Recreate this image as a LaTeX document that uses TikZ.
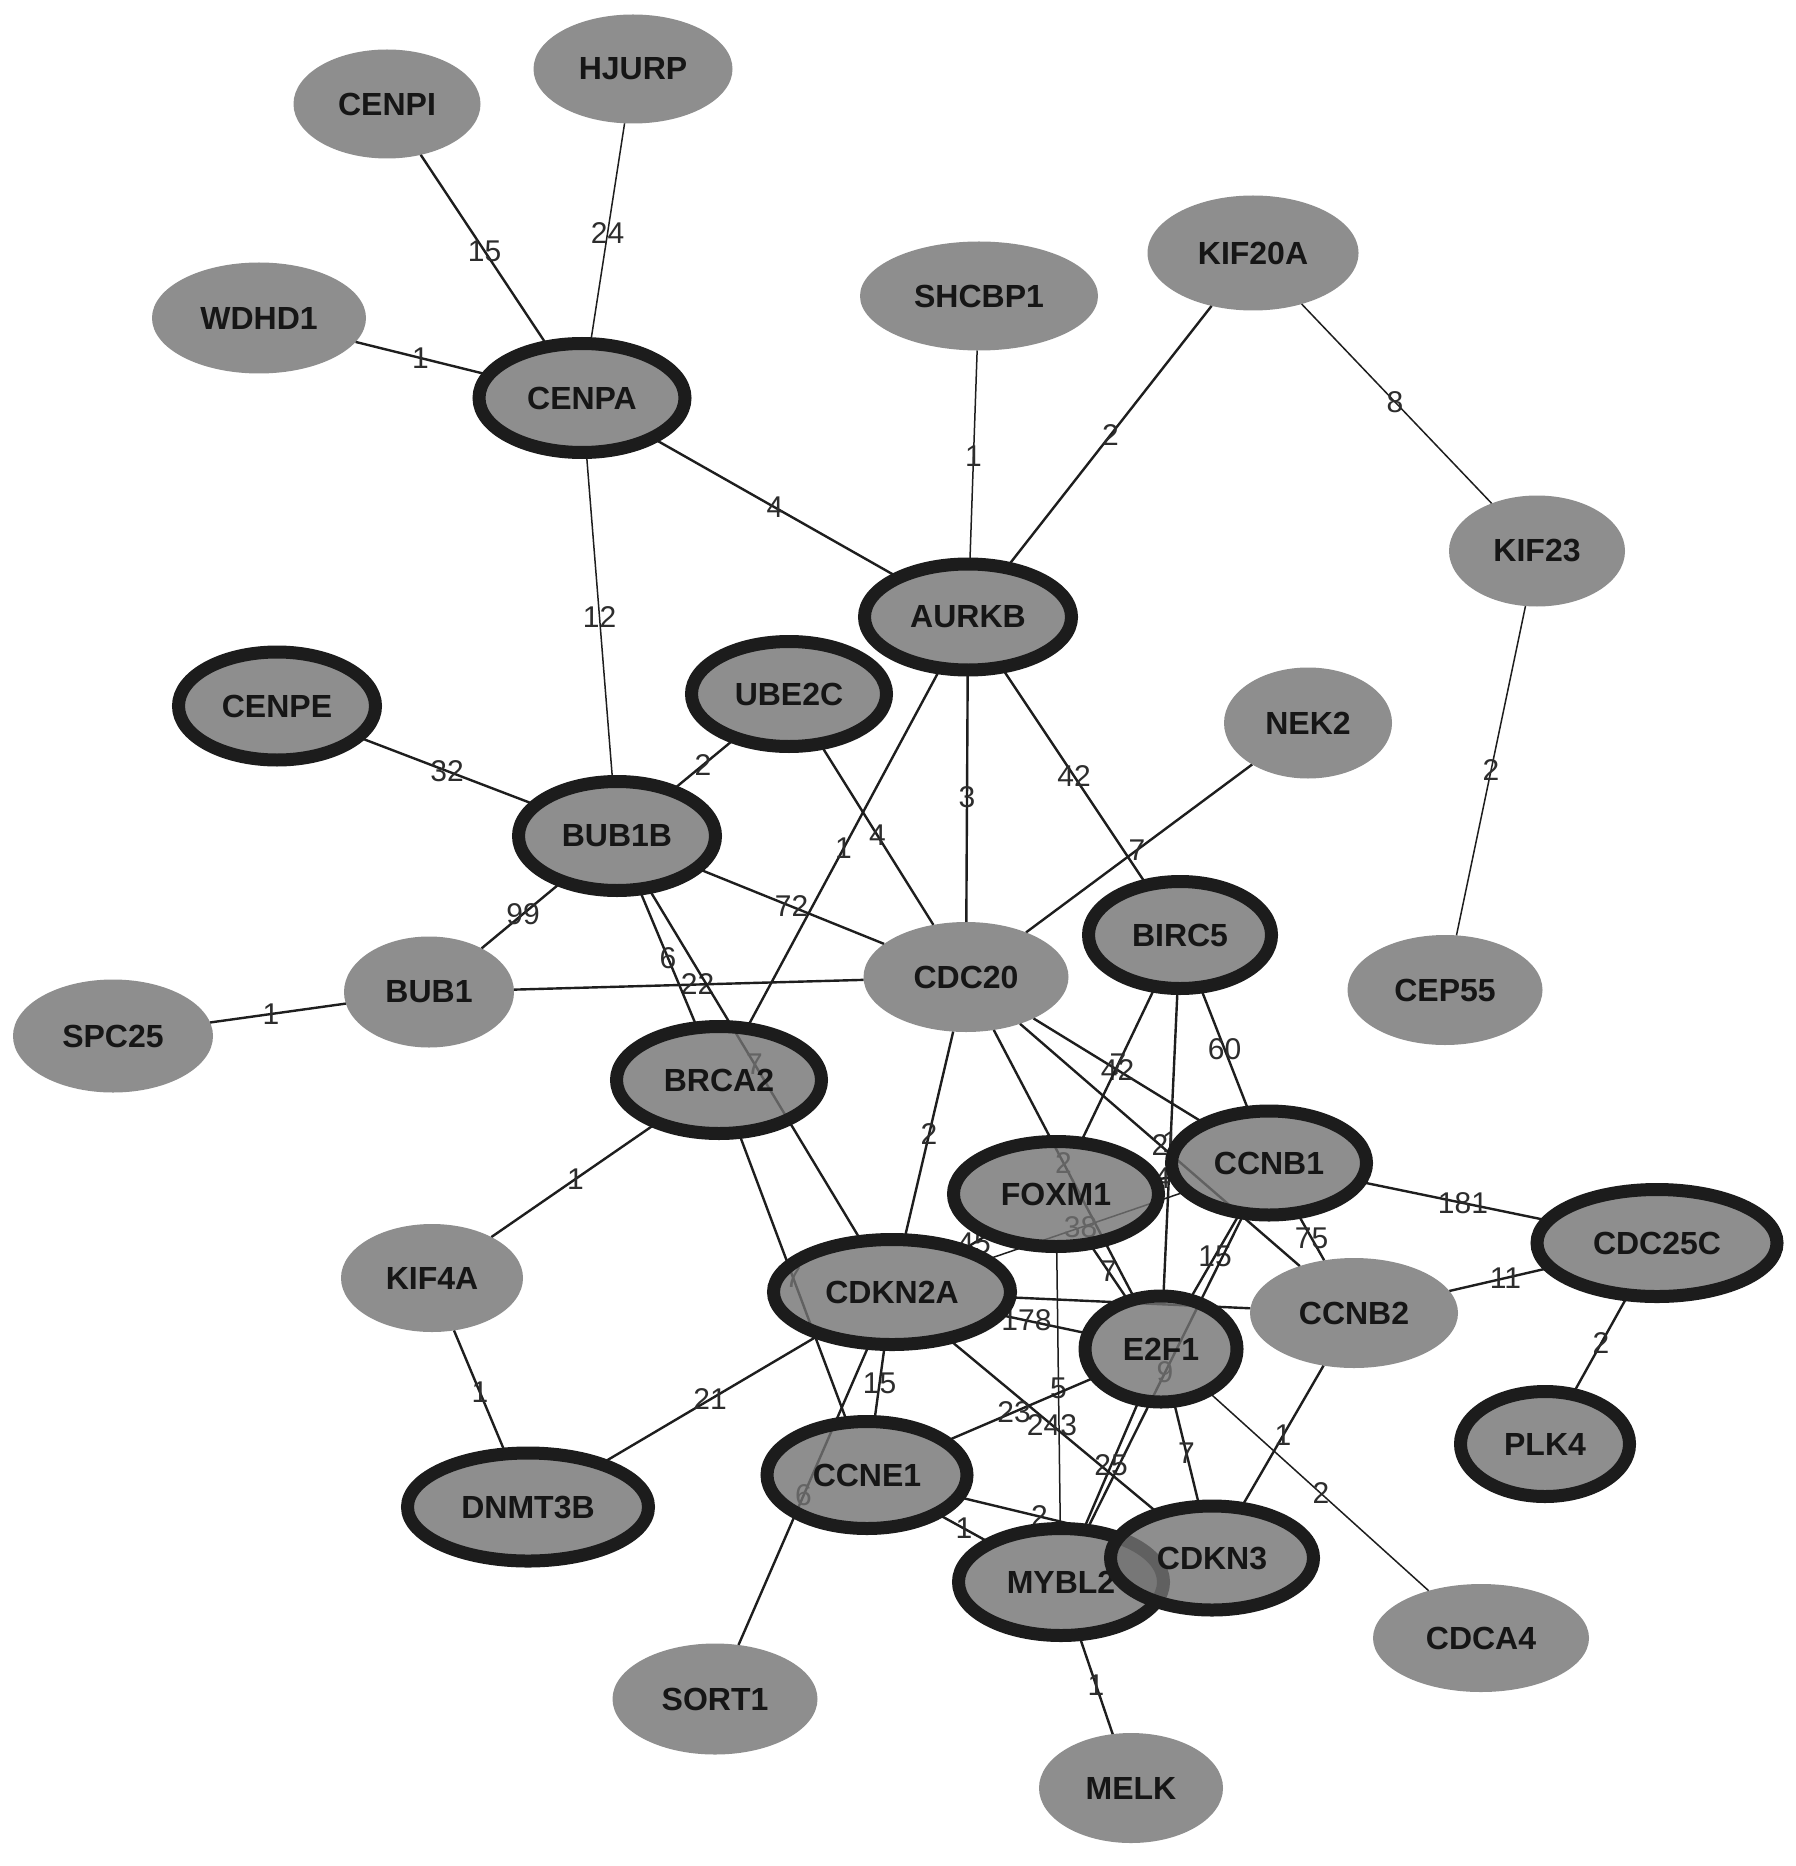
\documentclass[tikz,border=0pt]{standalone}
\usepackage{fontspec}
\newfontfamily\lsans{Liberation Sans}
\usetikzlibrary{shapes.geometric,backgrounds}
\definecolor{nodefill}{RGB}{114,114,114}
\definecolor{ringcol}{RGB}{28,28,28}
\definecolor{edgecol}{RGB}{30,30,30}
\definecolor{labcol}{RGB}{45,45,45}
\definecolor{txtcol}{RGB}{22,22,22}
\tikzset{
 gn/.style 2 args={ellipse, fill=nodefill, fill opacity=0.8, text opacity=1, draw opacity=1,
   minimum width=(#1)*0.5pt, minimum height=(#2)*0.5pt, inner sep=0pt, outer sep=0pt,
   text=txtcol, font=\lsans\bfseries\fontsize{16}{16}\selectfont},
 bn/.style 2 args={gn={#1-13}{#2-13}, draw=ringcol, line width=6.5pt},
 edge/.style={draw=edgecol, line width=1.2pt},
 thinedge/.style={line width=0.75pt},
 elab/.style={font=\lsans\fontsize{15}{15}\selectfont, text=labcol, inner sep=0pt},
}
\newcommand\gedge[4][]{\draw[edge,#1] (#2) -- (#3); \path (#2.center) -- node[elab]{#4} (#3.center);}
\begin{document}
\begin{tikzpicture}[x=0.5pt,y=-0.5pt]
\useasboundingbox (0,0) rectangle (1795,1866);
\begin{scope}[on background layer]
\fill[white] (0,0) rectangle (1795,1866);
\end{scope}
% nodes
\node[gn={187}{109}] (CENPI) at (387,104) {CENPI};
\node[gn={199}{109}] (HJURP) at (633,69) {HJURP};
\node[gn={214}{111}] (WDHD1) at (259,318) {WDHD1};
\node[bn={219}{122}] (CENPA) at (582,398) {CENPA};
\node[gn={238}{109}] (SHCBP1) at (979,296) {SHCBP1};
\node[gn={211}{115}] (KIF20A) at (1253,253) {KIF20A};
\node[gn={176}{111}] (KIF23) at (1537,551) {KIF23};
\node[bn={220}{119}] (AURKB) at (968,617) {AURKB};
\node[gn={168}{111}] (NEK2) at (1308,723) {NEK2};
\node[bn={210}{121}] (CENPE) at (277,706) {CENPE};
\node[bn={208}{118}] (UBE2C) at (789,694) {UBE2C};
\node[bn={210}{122}] (BUB1B) at (617,836) {BUB1B};
\node[bn={196}{120}] (BIRC5) at (1180,935) {BIRC5};
\node[gn={205}{110}] (CDC20) at (966,977) {CDC20};
\node[gn={170}{111}] (BUB1) at (429,992) {BUB1};
\node[gn={200}{113}] (SPC25) at (113,1036) {SPC25};
\node[gn={195}{110}] (CEP55) at (1445,990) {CEP55};
\node[bn={218}{120}] (BRCA2) at (719,1080) {BRCA2};
\node[bn={218}{118}] (FOXM1) at (1056,1194) {FOXM1};
\node[bn={208}{117}] (CCNB1) at (1269,1163) {CCNB1};
\node[bn={253}{120}] (CDC25C) at (1657,1243) {CDC25C};
\node[gn={182}{108}] (KIF4A) at (432,1278) {KIF4A};
\node[bn={250}{118}] (CDKN2A) at (892,1292) {CDKN2A};
\node[gn={208}{110}] (CCNB2) at (1354,1313) {CCNB2};
\node[bn={165}{119}] (E2F1) at (1161,1349) {E2F1};
\node[bn={182}{118}] (PLK4) at (1545,1444) {PLK4};
\node[bn={254}{121}] (DNMT3B) at (528,1507) {DNMT3B};
\node[bn={213}{120}] (CCNE1) at (867,1475) {CCNE1};
\node[bn={218}{120}] (MYBL2) at (1061,1582) {MYBL2};
\node[bn={216}{117}] (CDKN3) at (1212,1558) {CDKN3};
\node[gn={216}{108}] (CDCA4) at (1481,1638) {CDCA4};
\node[gn={205}{111}] (SORT1) at (715,1699) {SORT1};
\node[gn={184}{110}] (MELK) at (1131,1788) {MELK};
% edges
\begin{scope}[on background layer]
\gedge{CENPI}{CENPA}{15}
\gedge[thinedge]{HJURP}{CENPA}{24}
\gedge{WDHD1}{CENPA}{1}
\gedge{CENPA}{AURKB}{4}
\gedge[thinedge]{CENPA}{BUB1B}{12}
\gedge[thinedge]{SHCBP1}{AURKB}{1}
\gedge{KIF20A}{AURKB}{2}
\gedge[thinedge]{KIF20A}{KIF23}{8}
\gedge[thinedge]{KIF23}{CEP55}{2}
\gedge{CENPE}{BUB1B}{32}
\gedge{UBE2C}{BUB1B}{2}
\gedge{UBE2C}{CDC20}{4}
\gedge{AURKB}{CDC20}{3}
\gedge{AURKB}{BIRC5}{42}
\gedge{AURKB}{BRCA2}{1}
\gedge{NEK2}{CDC20}{7}
\gedge{BUB1B}{BUB1}{99}
\gedge{BUB1B}{CDC20}{72}
\gedge{BUB1}{CDC20}{22}
\gedge{BUB1}{SPC25}{1}
\gedge{BUB1B}{BRCA2}{6}
\gedge{BUB1B}{CDKN2A}{7}
\gedge{BRCA2}{CCNE1}{7}
\gedge{BRCA2}{KIF4A}{1}
\gedge{KIF4A}{DNMT3B}{1}
\gedge{CDKN2A}{DNMT3B}{21}
\gedge{CDKN2A}{CCNE1}{15}
\gedge{CDKN2A}{SORT1}{6}
\gedge{CDC20}{CDKN2A}{2}
\gedge{CDC20}{E2F1}{2}
\gedge{CDC20}{CCNB1}{42}
\gedge{CDC20}{CCNB2}{2}
\gedge{BIRC5}{FOXM1}{7}
\gedge{BIRC5}{CCNB1}{60}
\gedge{BIRC5}{E2F1}{1}
\gedge{FOXM1}{E2F1}{7}
\gedge{FOXM1}{CCNB1}{4}
\gedge[thinedge]{FOXM1}{MYBL2}{5}
\gedge{CDKN2A}{FOXM1}{45}
\gedge[thinedge]{CDKN2A}{CCNB1}{38}
\gedge{CDKN2A}{E2F1}{178}
\draw[edge] (CDKN2A) -- (CCNB2);
\gedge{CDKN2A}{CDKN3}{243}
\gedge{CCNB1}{CDC25C}{181}
\gedge{CCNB1}{CCNB2}{75}
\gedge{CCNB1}{E2F1}{15}
\gedge{CCNB1}{MYBL2}{9}
\gedge{CCNB2}{CDC25C}{11}
\gedge{CDC25C}{PLK4}{2}
\gedge{CCNB2}{CDKN3}{1}
\gedge{E2F1}{CDKN3}{7}
\gedge[thinedge]{E2F1}{CDCA4}{2}
\gedge{E2F1}{MYBL2}{25}
\gedge{CCNE1}{E2F1}{23}
\gedge{CCNE1}{MYBL2}{1}
\gedge{CCNE1}{CDKN3}{2}
\gedge{MYBL2}{MELK}{1}
\end{scope}
\end{tikzpicture}
\end{document}
